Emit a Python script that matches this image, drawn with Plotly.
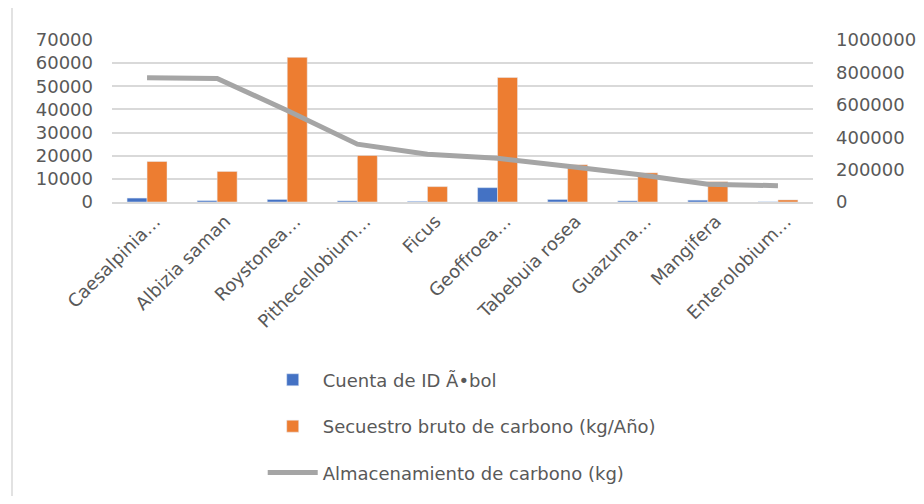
import plotly.graph_objects as go

categories = ["Caesalpinia…", "Albizia saman", "Roystonea…", "Pithecellobium…", "Ficus",
              "Geoffroea…", "Tabebuia rosea", "Guazuma…", "Mangifera", "Enterolobium…"]
cuenta_id = [1700, 600, 1100, 500, 300, 6200, 1100, 500, 800, 100]
secuestro = [17500, 13200, 62500, 20100, 6650, 53800, 16100, 12600, 8800, 900]
almacenamiento = [767000, 763000, 565000, 357000, 295000, 270000, 221000, 170000, 109000, 101000]

left_ticks = [0, 10000, 20000, 30000, 40000, 50000, 60000, 70000]
left_labels = ["0", "10000", "20000", "30000", "40000", "50000", "60000", "70000"]
right_ticks = [0, 200000, 400000, 600000, 800000, 1000000]
right_labels = ["0", "200000", "400000", "600000", "800000", "1000000"]

FONT = "DejaVu Sans"
GRAY = "#595959"

fig = go.Figure()
fig.add_trace(go.Bar(x=categories, y=cuenta_id, name="Cuenta de ID Ã•bol",
                     marker=dict(color="#4472C4"), legendgroup="a"))
fig.add_trace(go.Bar(x=categories, y=secuestro, name="Secuestro bruto de carbono (kg/Año)",
                     marker=dict(color="#ED7D31"), legendgroup="b"))
fig.add_trace(go.Scatter(x=categories, y=almacenamiento, name="Almacenamiento de carbono (kg)",
                         mode="lines", line=dict(color="#A5A5A5", width=5),
                         yaxis="y2", legendgroup="c"))

fig.update_layout(
    width=908, height=488,
    margin=dict(l=104, r=103, t=32, b=294, autoexpand=False),
    paper_bgcolor="white", plot_bgcolor="white",
    font=dict(family=FONT, size=18, color=GRAY),
    barmode="group", bargap=0.43, bargroupgap=0,
    xaxis=dict(tickangle=-45, showgrid=False, showline=True, linecolor="#D9D9D9",
               linewidth=1.5, ticks="", ticklabelshift=8,
               tickfont=dict(size=18, color=GRAY)),
    yaxis=dict(range=[0, 70000], tickvals=left_ticks, ticktext=left_labels, showgrid=True,
               gridcolor="#D9D9D9", gridwidth=1.5, zeroline=False, showline=False,
               ticklabelstandoff=18, tickfont=dict(size=18, color=GRAY)),
    yaxis2=dict(range=[0, 1000000], tickvals=right_ticks, ticktext=right_labels,
                overlaying="y", side="right",
                showgrid=False, zeroline=False, showline=False,
                ticklabelstandoff=22, tickfont=dict(size=18, color=GRAY)),
    legend=dict(x=0.215, y=-0.985, xanchor="left", yanchor="top",
                orientation="v", tracegroupgap=20, font=dict(size=18, color=GRAY),
                itemwidth=50, bgcolor="rgba(0,0,0,0)"),
    showlegend=True,
)

fig.add_shape(type="line", xref="paper", yref="paper",
              x0=(4 - 104) / 701, x1=(4 - 104) / 701, y0=(194 + 8) / 162, y1=(194 - 500) / 162,
              line=dict(color="#D9D9D9", width=1.5))

fig.write_html("out.html")
